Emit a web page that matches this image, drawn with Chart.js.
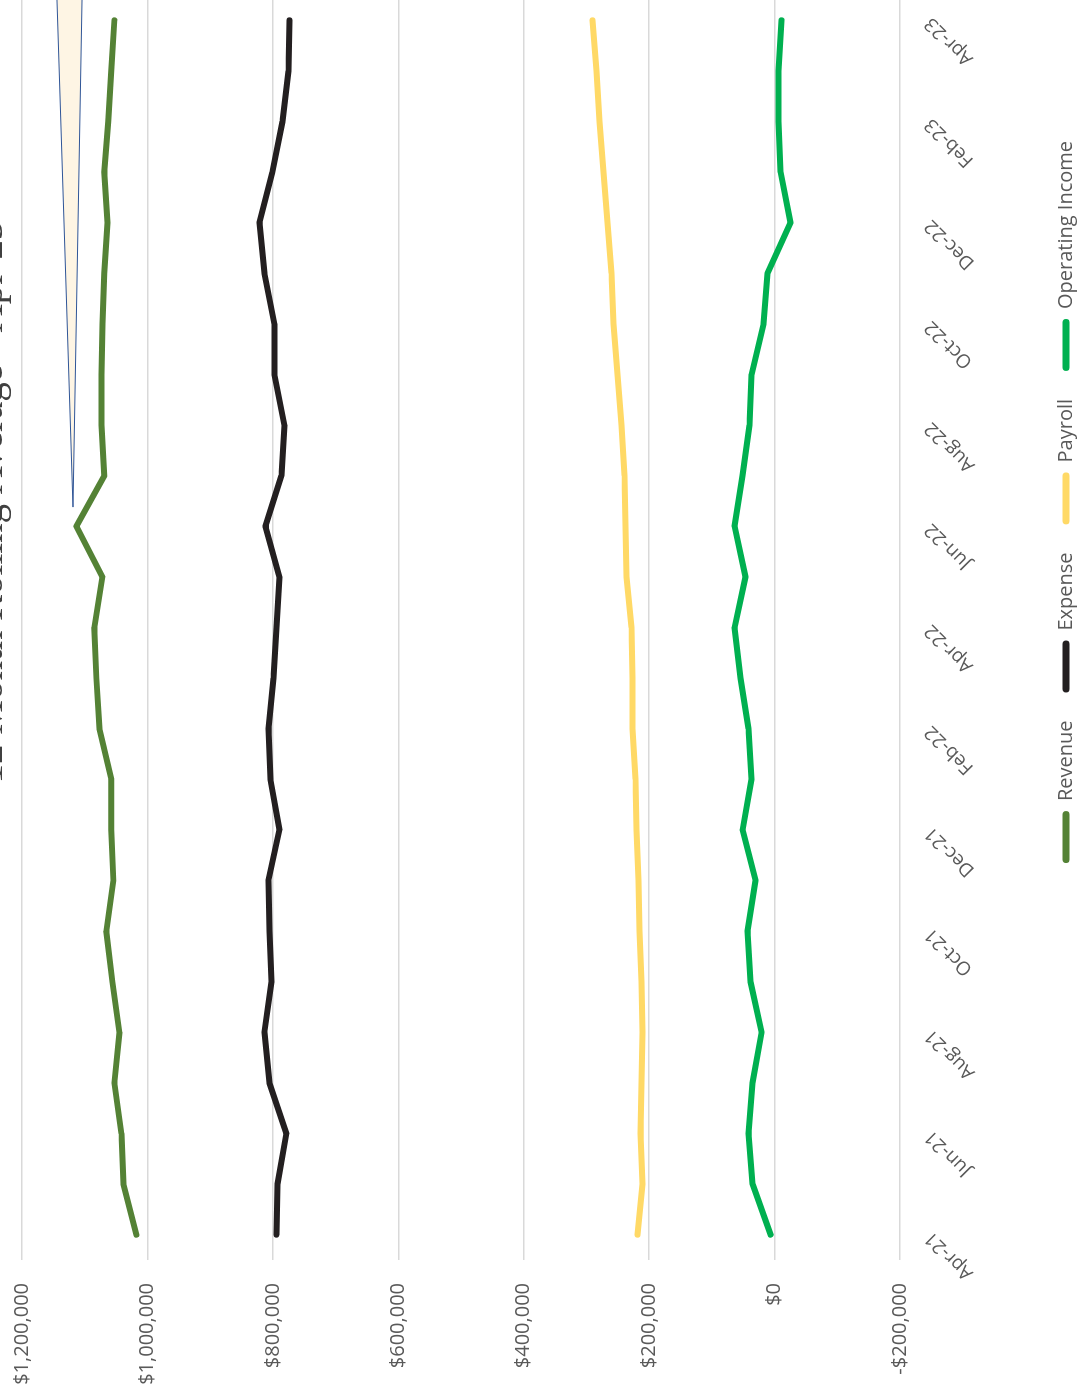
<!DOCTYPE html>
<html>
<head>
<meta charset="utf-8">
<script src="https://cdn.jsdelivr.net/npm/chart.js@4.4.1/dist/chart.umd.min.js"></script>
<style>
  html, body { margin: 0; padding: 0; background: #fff; overflow: hidden; width: 1078px; height: 1395px; }
  /* the chart is laid out landscape and turned a quarter turn counter-clockwise */
  #frame { position: absolute; left: 0; top: 0; width: 1786px; height: 1117px;
           transform-origin: 0 0; transform: translate(-31px, 1395px) rotate(-90deg); }
</style>
</head>
<body>
<div id="frame"><canvas id="c" width="1786" height="1117"></canvas></div>
<script>
// Months, Apr-21 .. Apr-23
const months = ['Apr-21','May-21','Jun-21','Jul-21','Aug-21','Sep-21','Oct-21','Nov-21','Dec-21',
                'Jan-22','Feb-22','Mar-22','Apr-22','May-22','Jun-22','Jul-22','Aug-22','Sep-22',
                'Oct-22','Nov-22','Dec-22','Jan-23','Feb-23','Mar-23','Apr-23'];

// 12 month rolling averages ($)
const revenue  = [1017600, 1038300, 1041500, 1052700, 1044700, 1055900, 1065500, 1054300, 1057500,
                  1057500, 1076600, 1081400, 1084600, 1071800, 1113300, 1068700, 1073400, 1073400,
                  1071800, 1068700, 1063800, 1068700, 1062300, 1057500, 1052700];
const expense  = [794300, 792700, 778400, 805500, 813500, 802300, 805500, 807100, 789500,
                  803900, 807100, 799100, 794300, 789500, 811900, 786300, 781600, 797500,
                  797500, 813500, 821400, 800700, 784700, 775200, 773600];
const payroll  = [218500, 210500, 213700, 212100, 210500, 212100, 215300, 216900, 220100,
                  221700, 226500, 226500, 228100, 236100, 237600, 239300, 244000, 250400,
                  256800, 260000, 266400, 272700, 279100, 283900, 290300];
const opIncome = [6400, 35100, 41500, 35100, 20700, 38300, 43100, 30300, 51000,
                  36700, 41500, 54200, 63800, 46300, 63800, 51000, 39900, 36700,
                  17500, 11200, -25500, -9600, -6400, -6400, -11200];

// value axis ticks
const valueMin = -200000, valueMax = 1200000, valueStep = 200000;

const chartTitle = '12 Month Rolling Average - Apr-23';

// wedge of a call-out shape pointing at the Jun/Jul-22 revenue
const calloutTip  = { index: 14.38, value: 1118700 };
const calloutBase = [{ index: 26.4, value: 1149300 }, { index: 26.4, value: 1101400 }];

const TEXT = '#595959';
const money = v => (v < 0 ? '-$' : '$') + Math.abs(v).toLocaleString('en-US');

const calloutPlugin = {
  id: 'callout',
  afterDatasetsDraw(chart) {
    const { ctx, scales: { x, y } } = chart;
    const pt = p => [x.getPixelForValue(p.index), y.getPixelForValue(p.value)];
    const t = pt(calloutTip), a = pt(calloutBase[0]), b = pt(calloutBase[1]);
    ctx.save();
    ctx.beginPath();
    ctx.moveTo(a[0], a[1]);
    ctx.lineTo(t[0], t[1]);
    ctx.lineTo(b[0], b[1]);
    ctx.closePath();
    ctx.fillStyle = '#FEF5E4';
    ctx.fill();
    ctx.lineWidth = 1;
    ctx.strokeStyle = '#2F5597';
    ctx.stroke();
    ctx.restore();
  }
};

const series = (label, data, color) => ({ label, data, borderColor: color, backgroundColor: color });

new Chart(document.getElementById('c'), {
  type: 'line',
  data: {
    labels: months,
    datasets: [
      series('Revenue', revenue, '#548235'),
      series('Expense', expense, '#231F20'),
      series('Payroll', payroll, '#FFD966'),
      series('Operating Income', opIncome, '#00B050')
    ]
  },
  options: {
    responsive: false,
    animation: false,
    devicePixelRatio: 1,
    layout: { padding: 0 },
    elements: {
      line: { borderWidth: 6, tension: 0, borderCapStyle: 'round', borderJoinStyle: 'round', fill: false },
      point: { radius: 0, hoverRadius: 0 }
    },
    scales: {
      x: {
        type: 'category',
        offset: true,
        grid: { display: false, drawTicks: false },
        border: { display: false },
        ticks: {
          autoSkip: false, minRotation: 45, maxRotation: 45, padding: 20,
          color: TEXT, font: { family: 'Open Sans', size: 19 },
          callback: (v, i) => (i % 2 === 0 ? months[i] : '')
        },
        afterFit(s) { s.height = 128; }
      },
      y: {
        min: valueMin, max: valueMax,
        grid: { color: '#D9D9D9', lineWidth: 1.5, drawTicks: false },
        border: { display: false },
        ticks: { stepSize: valueStep, padding: 23, color: TEXT, font: { family: 'Open Sans', size: 20 }, callback: v => money(v) },
        afterFit(s) { s.width = 135; }
      },
      side: {
        position: 'right',
        display: true,
        grid: { display: false, drawTicks: false },
        border: { display: false },
        ticks: { display: false },
        afterFit(s) { s.width = 386; }
      }
    },
    plugins: {
      title: {
        display: true, text: chartTitle, color: '#404040',
        font: { family: 'Liberation Serif', size: 39, weight: 'normal', lineHeight: 1.0 },
        padding: { top: 3, bottom: 11 }
      },
      legend: {
        position: 'bottom',
        labels: {
          color: TEXT, font: { family: 'Open Sans', size: 20 },
          boxWidth: 52, boxHeight: 7, padding: 28,
          useBorderRadius: true, borderRadius: 3.5,
          generateLabels(chart) {
            return Chart.defaults.plugins.legend.labels.generateLabels(chart)
              .map(it => Object.assign(it, { fillStyle: it.strokeStyle, lineWidth: 0 }));
          }
        }
      },
      tooltip: { enabled: false }
    }
  },
  plugins: [calloutPlugin]
});
</script>
</body>
</html>
